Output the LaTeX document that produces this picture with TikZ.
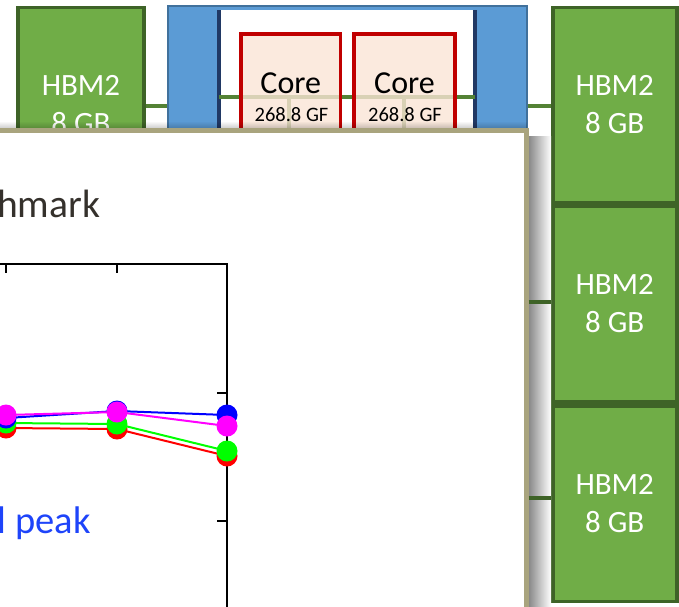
\documentclass[tikz,border=0pt]{standalone}
\usepackage{fontspec}
\setmainfont{Carlito}
\usetikzlibrary{fadings}

\definecolor{hbmfill}{HTML}{70AD47}
\definecolor{hbmedge}{HTML}{3E6327}
\definecolor{linkgreen}{HTML}{548235}
\definecolor{cpublue}{HTML}{5B9BD5}
\definecolor{cpuedge}{HTML}{41719C}
\definecolor{navyline}{HTML}{203864}
\definecolor{corefill}{HTML}{FBE5D6}
\definecolor{coreedge}{HTML}{C00000}
\definecolor{paneledge}{HTML}{A9A47E}
\definecolor{titlegray}{HTML}{35312C}
\definecolor{noteblue}{HTML}{1E44FA}
\definecolor{serRed}{RGB}{255,0,0}
\definecolor{serGreen}{RGB}{0,255,0}
\definecolor{serBlue}{RGB}{0,0,255}
\definecolor{serMagenta}{RGB}{255,0,255}

\tikzfading[name=fadeup, top color=transparent!100, bottom color=transparent!0]

\tikzset{
  hbm/.style={draw=hbmedge, fill=hbmfill, line width=3.5pt, text=white,
    font=\fontsize{31}{38}\selectfont, align=center, inner sep=0pt,
    minimum width=#1, minimum height=195.5pt},
  hbm/.default=124pt,
  corebox/.style={draw=coreedge, line width=3.5pt, fill=corefill,
    fill opacity=0.8, inner sep=0pt, minimum height=196pt},
  corename/.style={font=\fontsize{32}{38}\selectfont, inner sep=0pt},
  corerate/.style={font=\fontsize{20.5}{24}\selectfont, inner sep=0pt},
  link/.style={draw=linkgreen, line width=3.5pt},
  darklink/.style={draw=hbmedge, line width=3.5pt},
  panel/.style={draw=paneledge, fill=white, line width=5pt, inner sep=0pt},
  axisline/.style={draw=black, line width=2.8pt},
  tickline/.style={draw=black, line width=2.4pt},
  series/.style={draw=#1, line width=2pt},
  dot/.style={fill=#1},
}

\begin{document}
\begin{tikzpicture}[x=1pt, y=-1pt]
  \path[use as bounding box, clip] (0,0) rectangle (679,606);
  \fill[white] (0,0) rectangle (679,606);

  % processor package: blue frame with a white die area
  \node[draw=cpuedge, fill=cpublue, line width=2pt, inner sep=0pt,
        minimum width=359pt, minimum height=700pt] (cpu) at (347,356) {};
  \fill[white] (220,10) rectangle (474,720);
  \draw[navyline, line width=3.5pt] (219,10) -- (219,720);
  \draw[navyline, line width=3.5pt] (475,10) -- (475,720);

  % on-die ring under the cores
  \coordinate (ringL) at (219,97);
  \coordinate (ringR) at (475,97);
  \draw[link] (ringL) -- (ringR);
  \draw[link] (289,97) -- (289,240);
  \draw[link] (404,97) -- (404,240);

  % cores
  \node[corebox, minimum width=99.5pt] (core1) at (290.75,132) {};
  \node[corebox, minimum width=101pt]  (core2) at (404.5,132) {};
  \node[corename] (core1name) at (290.75,83) {Core};
  \node[corename] (core2name) at (404.5,83) {Core};
  \node[corerate] (core1rate) at (291.5,114.5) {268.8 GF};
  \node[corerate] (core2rate) at (405,114.5) {268.8 GF};

  % HBM2 stacks
  \node[hbm=126pt] (hbmL) at (81,105) {HBM2\\8 GB};
  \node[hbm] (hbmR1) at (614.75,105) {HBM2\\8 GB};
  \node[hbm] (hbmR2) at (614.75,304) {HBM2\\8 GB};
  \node[hbm] (hbmR3) at (614.75,503.5) {HBM2\\8 GB};

  \coordinate (rowA) at (0,106);
  \draw[link] (hbmL.east |- rowA) -- (cpu.west |- rowA);
  \draw[link] (cpu.east |- rowA) -- (hbmR1.west |- rowA);

  % overlay panel and its soft shadow
  \fill[black, opacity=0.22, path fading=fadeup] (-5,121) rectangle (527,129);
  \shade[left color=black!48, right color=white] (528,136) rectangle (551,720);
  \node[panel, minimum width=546.5pt, minimum height=589.5pt] (panel) at (253.25,425.25) {};

  \coordinate (tapB) at (528.5,302);
  \coordinate (tapC) at (528.5,498);
  \draw[darklink] (tapB) -- (hbmR2.west |- tapB);
  \draw[darklink] (tapC) -- (hbmR3.west |- tapC);

  % panel heading and note
  \node[anchor=base west, inner sep=0pt, text=titlegray,
        font=\fontsize{39.5}{46}\selectfont] (heading) at (-3,217) {hmark};
  \node[anchor=base east, inner sep=0pt, text=noteblue,
        font=\fontsize{38.5}{44}\selectfont] (note) at (91,533) {l peak};

  % plot frame
  \draw[axisline] (-10,264) -- (227,264) -- (227,640);
  \draw[tickline] (6,264) -- (6,273);
  \draw[tickline] (117,264) -- (117,273);
  \draw[tickline] (227,393) -- (217,393);
  \draw[tickline] (227,521) -- (217,521);

  % measured series
  \foreach \c/\a/\b/\d in {serRed/428/429/456, serGreen/423/424/451,
                           serBlue/418/411/415, serMagenta/415/412/426}{
    \draw[series=\c] (6,\a) -- (117,\b) -- (227,\d);
    \fill[dot=\c] (6,\a) circle[radius=10.5pt];
    \fill[dot=\c] (117,\b) circle[radius=10.5pt];
    \fill[dot=\c] (227,\d) circle[radius=10.5pt];
  }
\end{tikzpicture}
\end{document}
